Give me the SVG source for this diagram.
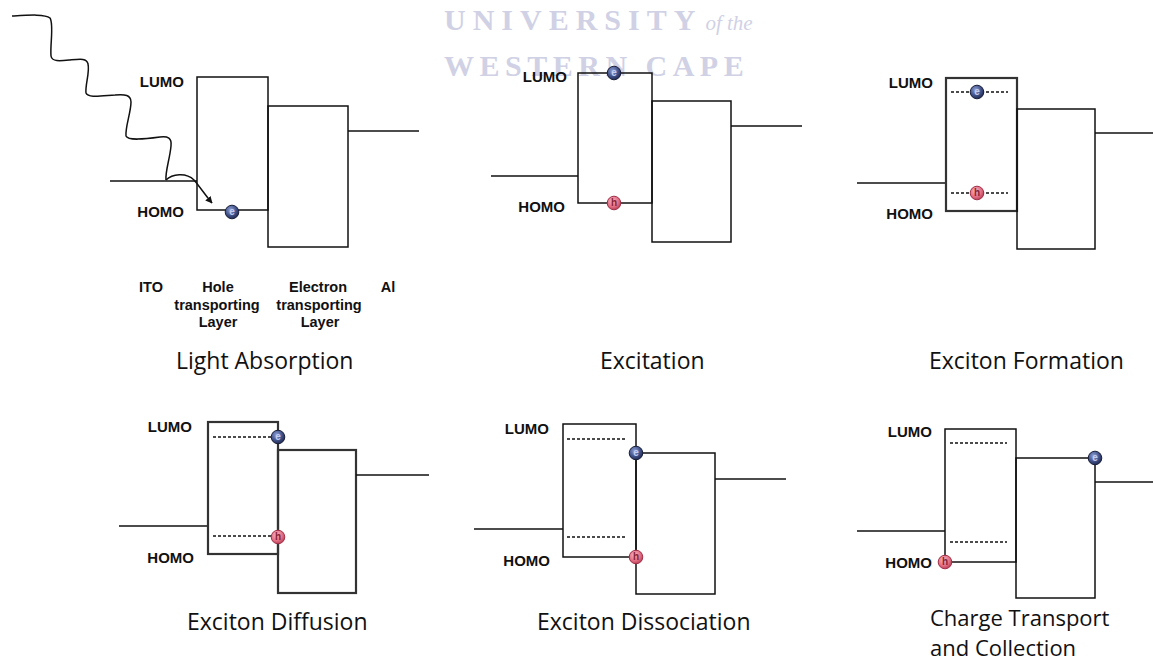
<svg xmlns="http://www.w3.org/2000/svg" width="1153" height="663" viewBox="0 0 1153 663">
  <defs>
    <radialGradient id="eFill" cx="0.4" cy="0.35" r="0.7">
      <stop offset="0" stop-color="#8fa3d8"/>
      <stop offset="0.6" stop-color="#3f4f86"/>
      <stop offset="1" stop-color="#1c2448"/>
    </radialGradient>
    <radialGradient id="hFill" cx="0.4" cy="0.35" r="0.7">
      <stop offset="0" stop-color="#f6b5c0"/>
      <stop offset="0.6" stop-color="#e46f84"/>
      <stop offset="1" stop-color="#b23a52"/>
    </radialGradient>
    <marker id="arrow" viewBox="0 0 10 10" refX="9" refY="5" markerWidth="7" markerHeight="7" orient="auto" markerUnits="userSpaceOnUse">
      <path d="M0,0 L10,5 L0,10 z" fill="#111"/>
    </marker>
    <g id="electron">
      <circle r="6.8" fill="url(#eFill)" stroke="#1a1f3a" stroke-width="1"/>
      <text class="q" y="3.2" fill="#c4cdef">e</text>
    </g>
    <g id="hole">
      <circle r="6.8" fill="url(#hFill)" stroke="#a03048" stroke-width="1"/>
      <text class="q" y="3.2" fill="#8a2236">h</text>
    </g>
  </defs>
  <style>
    .ln { fill: none; stroke: #111; stroke-width: 1.5; }
    .thick { stroke-width: 2.2; stroke: #333; }
    .dash { fill: none; stroke: #111; stroke-width: 1.4; stroke-dasharray: 3 2; }
    .lvl { font-family: "Liberation Sans", Arial, sans-serif; font-weight: bold; font-size: 15px; fill: #111; text-anchor: end; }
    .lay { font-family: "Liberation Sans", Arial, sans-serif; font-weight: bold; font-size: 14.5px; fill: #111; text-anchor: middle; }
    .cap { font-family: "Open Sans", "Noto Sans", sans-serif; font-size: 23px; fill: #111; }
    .cap2 { font-size: 22px; }
    .q { font-family: "Liberation Sans", Arial, sans-serif; font-size: 10px; font-weight: bold; text-anchor: middle; }
    .wm { font-family: "Liberation Serif", "Times New Roman", serif; font-weight: bold; font-size: 30px; fill: #d0d1e5; }
  </style>

  <rect width="1153" height="663" fill="#ffffff"/>

  <!-- institutional watermark -->
  <g id="watermark">
    <text class="wm" x="444" y="30" letter-spacing="7">UNIVERSITY<tspan font-style="italic" font-weight="normal" font-size="21" letter-spacing="0" dx="3">of the</tspan></text>
    <text class="wm" x="444" y="76" letter-spacing="5.5">WESTERN CAPE</text>
  </g>

  <!-- Panel 1: light absorption -->
  <g id="panel-light-absorption">
    <line class="ln" x1="110" y1="181" x2="197" y2="181"/>
    <rect class="ln" x="197" y="77" width="71" height="133"/>
    <rect class="ln" x="268" y="106" width="80" height="141"/>
    <line class="ln" x1="348" y1="131" x2="419" y2="131"/>
    <text class="lvl" x="184" y="87">LUMO</text>
    <text class="lvl" x="184" y="217">HOMO</text>
    <use href="#electron" x="232" y="212"/>
    <text class="lay" x="151" y="292">ITO</text>
    <text class="lay" x="218" y="292">Hole</text>
    <text class="lay" x="217" y="310">transporting</text>
    <text class="lay" x="218" y="327">Layer</text>
    <text class="lay" x="318" y="292">Electron</text>
    <text class="lay" x="319" y="310">transporting</text>
    <text class="lay" x="320" y="327">Layer</text>
    <text class="lay" x="388" y="292">Al</text>
    <text class="cap" x="176" y="369">Light Absorption</text>
  </g>

  <!-- Panel 2: excitation -->
  <g id="panel-excitation">
    <line class="ln" x1="491" y1="176" x2="578" y2="176"/>
    <rect class="ln" x="578" y="73" width="74" height="130"/>
    <rect class="ln" x="652" y="101" width="79" height="141"/>
    <line class="ln" x1="731" y1="126" x2="802" y2="126"/>
    <text class="lvl" x="567" y="82">LUMO</text>
    <text class="lvl" x="565" y="212">HOMO</text>
    <use href="#electron" x="614" y="73"/>
    <use href="#hole" x="614" y="203"/>
    <text class="cap" x="600" y="369">Excitation</text>
  </g>

  <!-- Panel 3: exciton formation -->
  <g id="panel-exciton-formation">
    <line class="ln" x1="857" y1="183" x2="946" y2="183"/>
    <rect class="ln thick" x="946" y="78" width="71" height="133"/>
    <rect class="ln" x="1017" y="109" width="78" height="140"/>
    <line class="ln" x1="1095" y1="133" x2="1153" y2="133"/>
    <line class="dash" x1="951" y1="92" x2="1008" y2="92"/>
    <line class="dash" x1="951" y1="193" x2="1008" y2="193"/>
    <text class="lvl" x="933" y="88">LUMO</text>
    <text class="lvl" x="933" y="219">HOMO</text>
    <use href="#electron" x="977" y="92"/>
    <use href="#hole" x="977" y="193"/>
    <text class="cap" x="929" y="369">Exciton Formation</text>
  </g>

  <!-- Panel 4: exciton diffusion -->
  <g id="panel-exciton-diffusion">
    <line class="ln" x1="119" y1="526" x2="208" y2="526"/>
    <rect class="ln thick" x="208" y="422" width="70" height="132"/>
    <rect class="ln thick" x="278" y="450" width="78" height="143"/>
    <line class="ln" x1="356" y1="475" x2="429" y2="475"/>
    <line class="dash" x1="213" y1="437" x2="274" y2="437"/>
    <line class="dash" x1="213" y1="536" x2="274" y2="536"/>
    <text class="lvl" x="192" y="432">LUMO</text>
    <text class="lvl" x="194" y="563">HOMO</text>
    <use href="#electron" x="278" y="437"/>
    <use href="#hole" x="278" y="537"/>
    <text class="cap" x="187" y="630">Exciton Diffusion</text>
  </g>

  <!-- Panel 5: exciton dissociation -->
  <g id="panel-exciton-dissociation">
    <line class="ln" x1="474" y1="529" x2="563" y2="529"/>
    <rect class="ln" x="563" y="424" width="73" height="133"/>
    <rect class="ln" x="636" y="453" width="79" height="141"/>
    <line class="ln" x1="715" y1="479" x2="786" y2="479"/>
    <line class="dash" x1="567" y1="439" x2="627" y2="439"/>
    <line class="dash" x1="567" y1="537" x2="627" y2="537"/>
    <text class="lvl" x="549" y="434">LUMO</text>
    <text class="lvl" x="550" y="566">HOMO</text>
    <use href="#electron" x="636" y="453"/>
    <use href="#hole" x="636" y="557"/>
    <text class="cap" x="537" y="630">Exciton Dissociation</text>
  </g>

  <!-- Panel 6: charge transport and collection -->
  <g id="panel-charge-transport">
    <line class="ln" x1="857" y1="531" x2="945" y2="531"/>
    <rect class="ln" x="945" y="429" width="71" height="133"/>
    <rect class="ln" x="1016" y="458" width="79" height="140"/>
    <line class="ln" x1="1095" y1="482" x2="1153" y2="482"/>
    <line class="dash" x1="950" y1="443" x2="1007" y2="443"/>
    <line class="dash" x1="950" y1="542" x2="1007" y2="542"/>
    <text class="lvl" x="932" y="437">LUMO</text>
    <text class="lvl" x="932" y="568">HOMO</text>
    <use href="#electron" x="1095" y="458"/>
    <use href="#hole" x="945" y="562"/>
    <text class="cap cap2" x="930" y="626">Charge Transport</text>
    <text class="cap cap2" x="930" y="656">and Collection</text>
  </g>

  <!-- incoming photon and the excited carrier path -->
  <g id="connectors">
    <path class="ln" stroke-width="1.6" d="M12,16 C30,15 45,14 50,18 C54,24 50,45 51,56 C52,62 60,61 70,60 C80,59 87,58 88,64 C90,72 85,85 86,93 C88,98 100,96 115,95 C125,94 131,95 131,102 C131,112 125,128 126,136 C128,141 145,139 160,137 C168,136 172,138 171,146 C170,158 165,172 166,180"/>
    <path class="ln" stroke-width="1.3" d="M166,180 C172,174 186,172 194,180 C200,187 206,196 212,203" marker-end="url(#arrow)"/>
  </g>
</svg>
